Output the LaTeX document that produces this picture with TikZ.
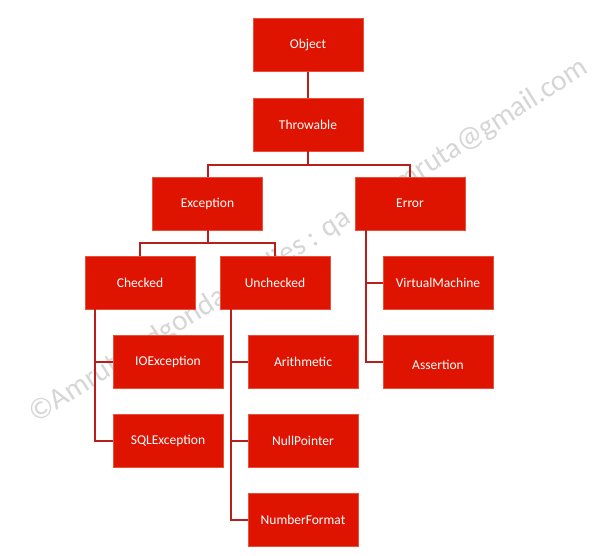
\documentclass[tikz,border=0pt]{standalone}
\usepackage{fontspec}
\setmainfont{Carlito}
\definecolor{boxred}{HTML}{DE1400}
\definecolor{boxedge}{HTML}{E8503C}
\definecolor{linered}{HTML}{B81F1A}
\definecolor{wmgray}{HTML}{D6D6D6}
\begin{document}
\begin{tikzpicture}[x=1pt,y=-1pt,
  box/.style={fill=boxred, draw=boxedge, line width=0.6pt, minimum width=110pt,
    minimum height=53pt, inner sep=0pt, text=white, font=\fontsize{13.5}{16}\selectfont},
  conn/.style={draw=linered, line width=2pt},
  wmark/.style={text=wmgray, font=\fontsize{29.5}{35}\selectfont, rotate=32.5, inner sep=0pt}]
\useasboundingbox (0,0) rectangle (601,555);
\fill[white] (0,0) rectangle (601,555);
% watermark
\node[wmark, anchor=base west] (wm1) at (36,424) {©Amruta Adgonda Studies : qa};
\node[wmark, anchor=base east] (wm2) at (590,72) {amruta@gmail.com};
% boxes
\node[box] (object) at (308,45) {Object};
\node[box] (throwable) at (308,124.5) {Throwable};
\node[box] (exception) at (207.5,203.5) {Exception};
\node[box] (error) at (410,203.5) {Error};
\node[box] (checked) at (140,282.5) {Checked};
\node[box] (unchecked) at (275,282.5) {Unchecked};
\node[box] (vm) at (438,282.5) {VirtualMachine};
\node[box] (ioex) at (168,361.5) {IOException};
\node[box] (arith) at (303,361.5) {Arithmetic};
\node[box] (assertion) at (438,361.5) {\raisebox{-7.5pt}[0pt][0pt]{Assertion}};
\node[box] (sqlex) at (168,440.5) {SQLException};
\node[box] (nullp) at (303,440.5) {NullPointer};
\node[box] (numfmt) at (303,519.5) {NumberFormat};
% connectors
\draw[conn] (object.south) -- (throwable.north);
\draw[conn] (throwable.south) -- ++(0,13.5) -| (exception.north);
\draw[conn] (throwable.south) -- ++(0,13.5) -| (error.north);
\draw[conn] (exception.south) -- ++(0,13) -| (checked.north);
\draw[conn] (exception.south) -- ++(0,13) -| (unchecked.north);
\draw[conn] ([xshift=11pt]error.south west) |- (vm.west);
\draw[conn] ([xshift=11pt]error.south west) |- (assertion.west);
\draw[conn] ([xshift=10pt]checked.south west) |- (ioex.west);
\draw[conn] ([xshift=10pt]checked.south west) |- (sqlex.west);
\draw[conn] ([xshift=11pt]unchecked.south west) |- (arith.west);
\draw[conn] ([xshift=11pt]unchecked.south west) |- (nullp.west);
\draw[conn] ([xshift=11pt]unchecked.south west) |- (numfmt.west);
\end{tikzpicture}
\end{document}
